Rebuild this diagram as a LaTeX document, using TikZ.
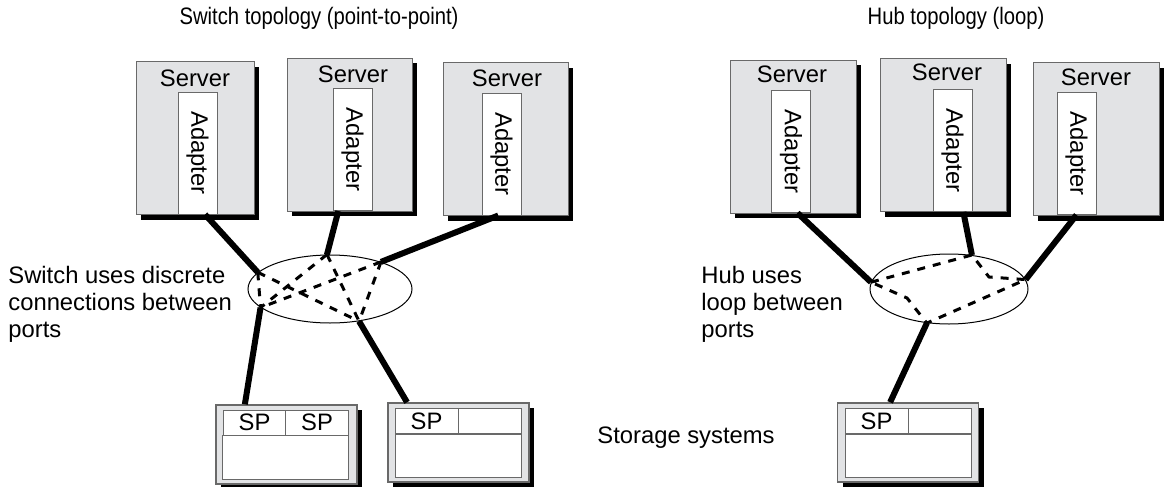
\documentclass[tikz,border=0pt]{standalone}
\usepackage{fontspec}
\usepackage{graphicx}
\setmainfont{Liberation Sans}
\newfontfamily\titlefont[FakeStretch=0.85]{Liberation Sans}
\usetikzlibrary{shapes.geometric,shadows}

\definecolor{boxgray}{RGB}{226,227,229}
\definecolor{linegray}{RGB}{105,105,105}

\tikzset{
  box shadow/.style={drop shadow={shadow xshift=2.5pt,shadow yshift=-2.5pt,fill=black,opacity=1}},
  server/.style={draw=linegray,fill=boxgray,line width=0.5pt,box shadow,minimum height=76.5pt,inner sep=0pt},
  adapter/.style={draw=linegray,fill=white,line width=0.5pt,minimum width=19.5pt,minimum height=61pt,inner sep=0pt},
  storage/.style={draw=linegray,fill=boxgray,line width=0.7pt,box shadow,minimum width=70.5pt,minimum height=39.5pt,inner sep=0pt},
  cell/.style={draw=linegray,fill=white,line width=0.5pt,minimum width=31.5pt,minimum height=12.5pt,inner sep=0pt},
  disk/.style={draw=linegray,fill=white,line width=0.5pt,minimum width=63pt,minimum height=21.5pt,inner sep=0pt},
  fabric/.style={ellipse,draw,line width=0.5pt,minimum height=34pt,inner sep=0pt},
  loopline/.style={draw,line width=1.5pt,dash pattern=on 4pt off 4pt}
}

\begin{document}
\begin{tikzpicture}[x=0.5pt,y=-0.5pt,font=\fontsize{11.9}{13.5}\selectfont]

  \useasboundingbox (0,0) rectangle (1168,487);

  % servers
  \begin{scope}[every node/.style={server}]
    \node[minimum width=59pt] (s1) at (195,138) {};
    \node[minimum width=62.5pt] (s2) at (349.5,134.5) {};
    \node[minimum width=62.5pt] (s3) at (505.5,139) {};
    \node[minimum width=63pt] (r1) at (793,136.5) {};
    \node[minimum width=63pt] (r2) at (943,135) {};
    \node[minimum width=63pt] (r3) at (1096,139) {};
  \end{scope}

  \begin{scope}[every node/.style={adapter}]
    \node (a1) at (197.5,153) {\rotatebox{-90}{Adapter}};
    \node (a2) at (352.5,149.5) {\rotatebox{-90}{Adapter}};
    \node (a3) at (501.5,154) {\rotatebox{-90}{Adapter}};
    \node (b1) at (791,151.5) {\rotatebox{-90}{Adapter}};
    \node (b2) at (952.5,150.5) {\rotatebox{-90}{Adapter}};
    \node (b3) at (1076.5,153.5) {\rotatebox{-90}{Adapter}};
  \end{scope}

  \begin{scope}[every node/.style={anchor=base}]
    \node (s1t) at (195,86) {Server};
    \node (s2t) at (353,83) {Server};
    \node (s3t) at (507,86) {Server};
    \node (r1t) at (792,82) {Server};
    \node (r2t) at (947,80) {Server};
    \node (r3t) at (1096,85) {Server};
    \node[font={\fontsize{11.9}{13.5}\titlefont}] (swtitle) at (319,25) {Switch topology (point-to-point)};
    \node[font={\fontsize{11.9}{13.5}\titlefont}] (hbtitle) at (956,25) {Hub topology (loop)};
  \end{scope}

  % switch and hub
  \node[fabric,minimum width=82pt] (sw) at (330,289) {};
  \node[fabric,minimum width=79pt,minimum height=35pt] (hb) at (949,289) {};

  % storage systems
  \node[storage] (st1) at (286.5,444.5) {};
  \node[storage] (st2) at (458.5,442.5) {};
  \node[storage] (st3) at (908,442.5) {};
  \begin{scope}[every node/.style={cell}]
    \node (st1a) at (254.5,422.5) {SP};
    \node (st1b) at (317,422.5) {SP};
    \node (st2a) at (426.5,421) {SP};
    \node (st2b) at (489.5,421) {};
    \node (st3a) at (876.5,421) {SP};
    \node (st3b) at (939.5,421) {};
  \end{scope}
  \begin{scope}[every node/.style={disk}]
    \node[minimum height=22pt] (st1d) at (285.5,457) {};
    \node (st2d) at (458,455.5) {};
    \node (st3d) at (908,455.5) {};
  \end{scope}

  % notes
  \begin{scope}[every node/.style={align=left,inner sep=0pt}]
    \node[anchor=north west] (swnote) at (8,266) {Switch uses discrete\\connections between\\ports};
    \node[anchor=north west] (hbnote) at (701,266) {Hub uses\\loop between\\ports};
    \node[anchor=base west] (stnote) at (597,443) {Storage systems};
  \end{scope}

  % cables
  \begin{scope}[every edge/.style={draw,line width=3pt}]
    \path (a1.-83) edge (sw.167);
    \path (a2.-103) edge (sw.95);
    \path (a3.-93) edge (sw.28);
    \path (sw.195) edge (st1.136);
    \path (sw.312) edge (st2.142);
    \path (b1.-84) edge (hb.175);
    \path (b2.-80) edge (hb.56);
    \path (b3.south) edge (hb.7);
    \path (hb.237) edge (st3.114);
  \end{scope}

  % connections inside the switch
  \begin{scope}[every edge/.style={loopline}]
    \path (sw.167) edge (sw.195);
    \path (sw.167) edge (sw.312);
    \path (sw.95) edge (sw.195);
    \path (sw.95) edge (sw.312);
    \path (sw.28) edge (sw.195);
    \path (sw.28) edge (sw.312);
  \end{scope}

  % loop inside the hub
  \coordinate (hb1) at (989,277);
  \coordinate (hb2) at (907,298);
  \draw[loopline] (hb.175) -- (hb.56) -- (hb1) -- (hb.7) -- (hb.237) -- (hb2) -- cycle;

\end{tikzpicture}
\end{document}
